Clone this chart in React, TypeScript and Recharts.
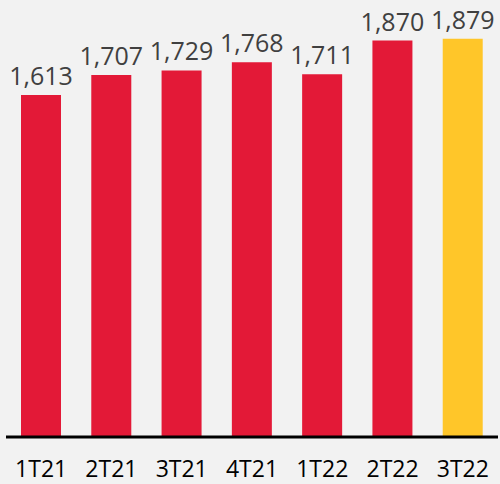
import { Bar, BarChart, Cell, LabelList, XAxis, YAxis } from "recharts";

const quarters = ["1T21", "2T21", "3T21", "4T21", "1T22", "2T22", "3T22"];
const values = [1613, 1707, 1729, 1768, 1711, 1870, 1879];
const barColors = ["#e31937", "#e31937", "#e31937", "#e31937", "#e31937", "#e31937", "#ffc629"];

const data = quarters.map((q, i) => ({ quarter: q, value: values[i] }));

const fmt = (v: unknown) => (typeof v === "number" ? v.toLocaleString("en-US") : String(v));

export default function App() {
  return (
    <div style={{ position: "absolute", left: 0, top: 0, width: 500, height: 484, background: "#f2f2f2" }}>
      <BarChart
        width={500}
        height={484}
        data={data}
        margin={{ top: 13, right: 2, left: 6, bottom: 0 }}
        barSize={40}
      >
        <XAxis
          dataKey="quarter"
          height={47}
          tickLine={false}
          tickSize={0}
          tickMargin={24}
          axisLine={{ stroke: "#000000", strokeWidth: 3 }}
          tick={{ fontSize: 23, fill: "#000000", fontFamily: "Open Sans" }}
          interval={0}
        />
        <YAxis hide domain={[0, 2000]} />
        <Bar dataKey="value" isAnimationActive={false}>
          {data.map((_, i) => (
            <Cell key={i} fill={barColors[i]} />
          ))}
          <LabelList
            dataKey="value"
            position="top"
            offset={10}
            formatter={fmt}
            style={{ fontSize: 25, fill: "#404040", fontFamily: "Open Sans" }}
          />
        </Bar>
      </BarChart>
    </div>
  );
}
